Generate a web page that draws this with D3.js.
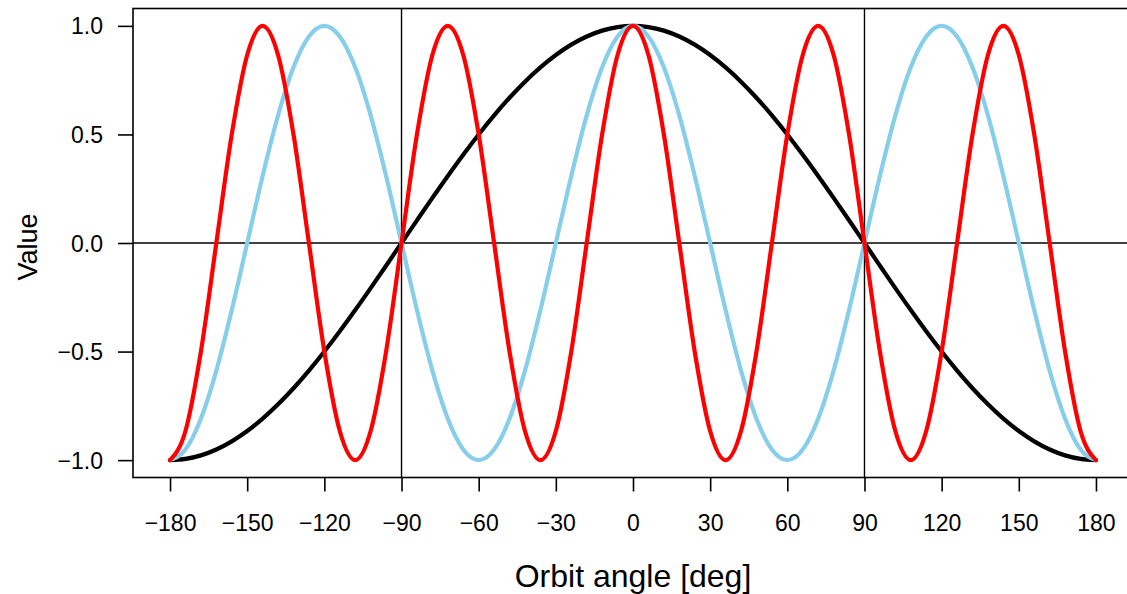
<!DOCTYPE html>
<html>
<head>
<meta charset="utf-8">
<script src="https://cdn.jsdelivr.net/npm/d3@7"></script>
<style>
  body { margin: 0; background: #fff; }
  svg { display: block; font-family: "Liberation Sans", Arial, sans-serif; }
</style>
</head>
<body>
<div id="chart"></div>
<script>
// orbit angle samples (deg)
const angles = [-180, -174, -168, -162, -156, -150, -144, -138, -132, -126, -120, -114, -108, -102, -96, -90,
  -84, -78, -72, -66, -60, -54, -48, -42, -36, -30, -24, -18, -12, -6, 0,
  6, 12, 18, 24, 30, 36, 42, 48, 54, 60, 66, 72, 78, 84, 90,
  96, 102, 108, 114, 120, 126, 132, 138, 144, 150, 156, 162, 168, 174, 180];

// black curve
const seriesOne = [-1, -0.9945, -0.9781, -0.9511, -0.9135, -0.866, -0.809, -0.7431, -0.6691, -0.5878, -0.5, -0.4067, -0.309, -0.2079, -0.1045, 0,
  0.1045, 0.2079, 0.309, 0.4067, 0.5, 0.5878, 0.6691, 0.7431, 0.809, 0.866, 0.9135, 0.9511, 0.9781, 0.9945, 1,
  0.9945, 0.9781, 0.9511, 0.9135, 0.866, 0.809, 0.7431, 0.6691, 0.5878, 0.5, 0.4067, 0.309, 0.2079, 0.1045, 0,
  -0.1045, -0.2079, -0.309, -0.4067, -0.5, -0.5878, -0.6691, -0.7431, -0.809, -0.866, -0.9135, -0.9511, -0.9781, -0.9945, -1];

// sky blue curve
const seriesThree = [-1, -0.9511, -0.809, -0.5878, -0.309, 0, 0.309, 0.5878, 0.809, 0.9511, 1, 0.9511, 0.809, 0.5878, 0.309, 0,
  -0.309, -0.5878, -0.809, -0.9511, -1, -0.9511, -0.809, -0.5878, -0.309, 0, 0.309, 0.5878, 0.809, 0.9511, 1,
  0.9511, 0.809, 0.5878, 0.309, 0, -0.309, -0.5878, -0.809, -0.9511, -1, -0.9511, -0.809, -0.5878, -0.309, 0,
  0.309, 0.5878, 0.809, 0.9511, 1, 0.9511, 0.809, 0.5878, 0.309, 0, -0.309, -0.5878, -0.809, -0.9511, -1];

// red curve
const seriesFive = [-1, -0.866, -0.5, 0, 0.5, 0.866, 1, 0.866, 0.5, 0, -0.5, -0.866, -1, -0.866, -0.5, 0,
  0.5, 0.866, 1, 0.866, 0.5, 0, -0.5, -0.866, -1, -0.866, -0.5, 0, 0.5, 0.866, 1,
  0.866, 0.5, 0, -0.5, -0.866, -1, -0.866, -0.5, 0, 0.5, 0.866, 1, 0.866, 0.5, 0,
  -0.5, -0.866, -1, -0.866, -0.5, 0, 0.5, 0.866, 1, 0.866, 0.5, 0, -0.5, -0.866, -1];

const xTicks = [-180, -150, -120, -90, -60, -30, 0, 30, 60, 90, 120, 150, 180];
const yTicks = [-1, -0.5, 0, 0.5, 1];
const refAngles = [-90, 90];

const width = 1127;
const height = 594;
const plotLeft = 133;
const plotRight = 1133;
const plotTop = 8.5;
const plotBottom = 477.5;

const svg = d3.select('#chart')
  .append('svg')
  .attr('width', width)
  .attr('height', height);

// R style 4% padding around the data range
const x = d3.scaleLinear().domain([-194.4, 194.4]).range([plotLeft, plotRight]);
const y = d3.scaleLinear().domain([-1.08, 1.08]).range([plotBottom, plotTop]);

const fmtMinus = (s) => s.replace('-', '\u2212');

// reference lines
svg.append('g')
  .selectAll('line')
  .data(refAngles)
  .enter()
  .append('line')
  .attr('x1', (d) => x(d))
  .attr('x2', (d) => x(d))
  .attr('y1', plotTop)
  .attr('y2', plotBottom)
  .attr('stroke', '#000')
  .attr('stroke-width', 1.4);

svg.append('line')
  .attr('x1', plotLeft)
  .attr('x2', plotRight)
  .attr('y1', y(0))
  .attr('y2', y(0))
  .attr('stroke', '#000')
  .attr('stroke-width', 1.4);

// curves
const line = d3.line()
  .x((d, i) => x(angles[i]))
  .y((d) => y(d))
  .curve(d3.curveMonotoneX);

const series = [
  {values: seriesOne, color: '#000000'},
  {values: seriesThree, color: '#87CEEB'},
  {values: seriesFive, color: '#FF0000'}
];

svg.append('g')
  .selectAll('path')
  .data(series)
  .enter()
  .append('path')
  .attr('d', (d) => line(d.values))
  .attr('fill', 'none')
  .attr('stroke', (d) => d.color)
  .attr('stroke-width', 4.2)
  .attr('stroke-linejoin', 'round')
  .attr('stroke-linecap', 'round');

// plot frame (right side runs off the page)
svg.append('rect')
  .attr('x', plotLeft)
  .attr('y', plotTop)
  .attr('width', plotRight - plotLeft)
  .attr('height', plotBottom - plotTop)
  .attr('fill', 'none')
  .attr('stroke', '#000')
  .attr('stroke-width', 1.6);

// axes
const xAxis = d3.axisBottom(x)
  .tickValues(xTicks)
  .tickSize(14)
  .tickPadding(23)
  .tickFormat((d) => fmtMinus(d3.format('d')(d)));

const yAxis = d3.axisLeft(y)
  .tickValues(yTicks)
  .tickSize(15)
  .tickPadding(15)
  .tickFormat((d) => fmtMinus(d3.format('.1f')(d)));

const gx = svg.append('g')
  .attr('transform', 'translate(0,' + plotBottom + ')')
  .call(xAxis);

const gy = svg.append('g')
  .attr('transform', 'translate(' + plotLeft + ',0)')
  .call(yAxis);

[gx, gy].forEach((g) => {
  g.select('.domain').remove();
  g.selectAll('.tick line').attr('stroke', '#000').attr('stroke-width', 1.6);
  g.selectAll('.tick text')
    .attr('fill', '#000')
    .style('font-size', '23px')
    .style('font-family', '"Liberation Sans", Arial, sans-serif');
});

gy.selectAll('.tick text').attr('dy', '0.35em');

// axis titles
svg.append('text')
  .attr('x', x(0))
  .attr('y', 587)
  .attr('text-anchor', 'middle')
  .style('font-size', '32px')
  .text('Orbit angle [deg]');

svg.append('text')
  .attr('transform', 'translate(37,247) rotate(-90)')
  .attr('text-anchor', 'middle')
  .style('font-size', '27px')
  .text('Value');
</script>
</body>
</html>
